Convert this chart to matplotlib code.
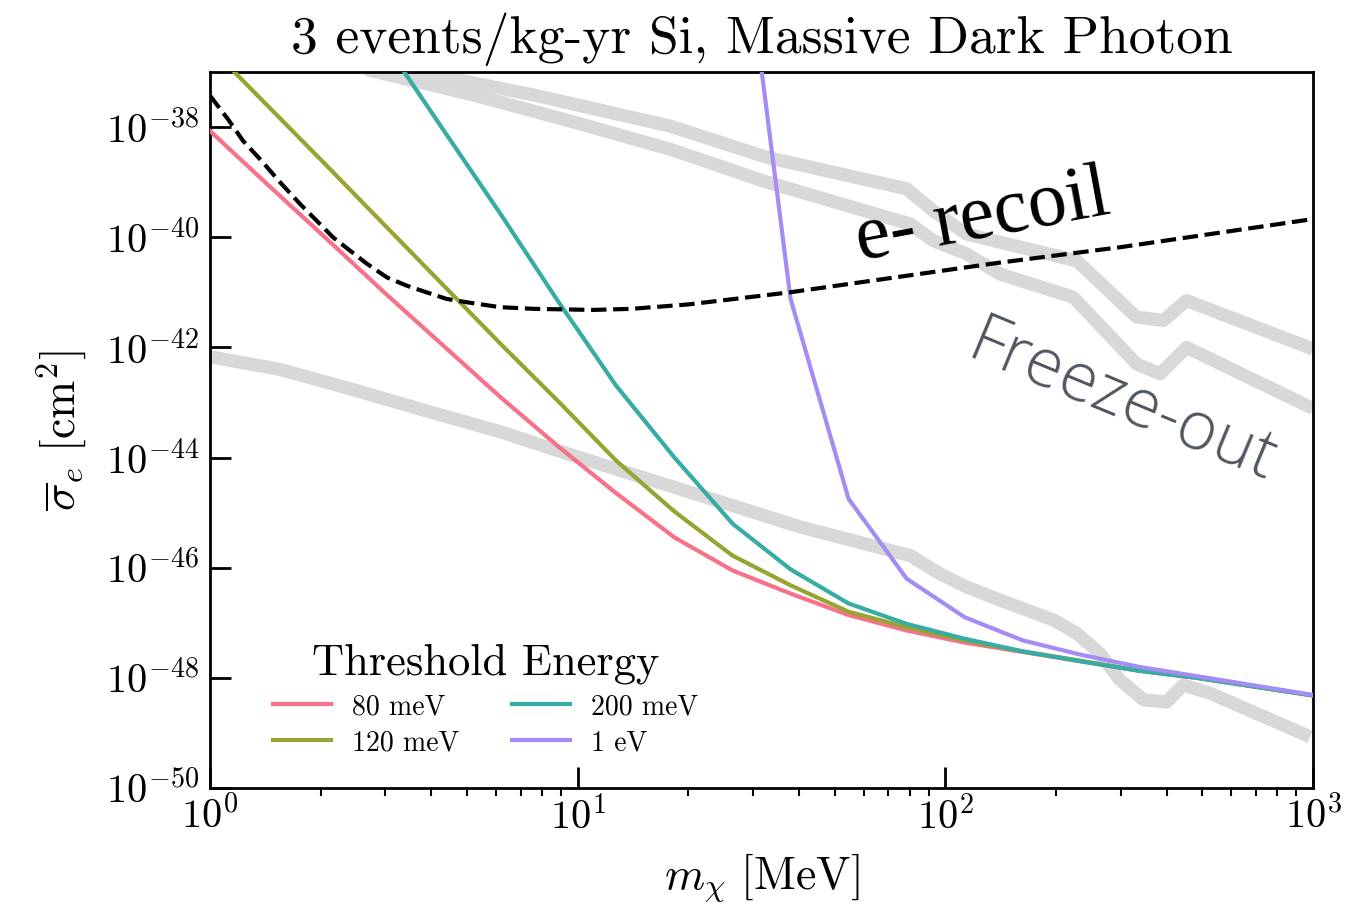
import numpy as np
import matplotlib
matplotlib.use("Agg")
import matplotlib.pyplot as plt
from matplotlib.ticker import LogLocator, NullLocator, NullFormatter

# ---------------- data (log10 of cross-section in cm^2) ----------------
masses = [1.0, 1.438, 2.069, 2.976, 4.281, 6.158, 8.859, 12.74, 18.33, 26.37,
          37.93, 54.56, 78.48, 112.9, 162.4, 233.6, 336.0, 483.3, 695.2, 1000.0]

nan = float("nan")
logsig_80meV = [-38.07, -39.05, -40.02, -41.0, -41.95, -42.9, -43.8, -44.65, -45.45, -46.05,
                -46.47, -46.86, -47.14, -47.36, -47.53, -47.70, -47.87, -48.0, -48.16, -48.32]
logsig_120meV = [-36.55, -37.62, -38.69, -39.77, -40.85, -41.93, -42.98, -44.06, -44.98, -45.78,
                 -46.32, -46.80, -47.08, -47.32, -47.52, -47.69, -47.87, -48.0, -48.16, -48.32]
logsig_200meV = [nan, nan, nan, -36.46, -38.02, -39.57, -41.17, -42.70, -44.0, -45.2,
                 -46.03, -46.65, -47.02, -47.29, -47.52, -47.70, -47.87, -48.0, -48.16, -48.32]
logsig_1eV = [nan, nan, nan, nan, nan, nan, nan, nan, nan, -32.8,
              -41.12, -44.75, -46.20, -46.90, -47.32, -47.58, -47.80, -47.97, -48.14, -48.31]

series_labels = ["80 meV", "120 meV", "200 meV", "1 eV"]
series_colors = ["#f77189", "#97a431", "#36ada4", "#a48cf4"]

# e- recoil (dashed)
recoil_m = [1.0, 1.12, 1.23, 1.38, 1.55, 1.76, 1.95, 2.16, 2.40, 2.67, 3.03, 3.43, 3.88,
            4.40, 4.99, 6.15, 7.59, 11.0, 14.0, 20.0, 37.8, 100.0, 141.0, 300.0, 1000.0]
recoil_logsig = [-37.43, -37.86, -38.25, -38.61, -39.0, -39.40, -39.70, -40.0, -40.24, -40.48,
                 -40.73, -40.88, -41.0, -41.12, -41.18, -41.27, -41.30, -41.32, -41.30, -41.22,
                 -41.0, -40.6, -40.46, -40.18, -39.67]

# freeze-out bands (gray)
fo_upper_m = [1.5, 3.72, 7.74, 17.8, 32.7, 78.5, 92.7, 114.0, 228.0, 331.0, 392.0, 453.0, 1000.0]
fo_upper_logsig = [-35.6, -37.0, -37.43, -37.98, -38.55, -39.12, -39.52, -39.94, -40.43,
                   -41.45, -41.51, -41.15, -42.03]
fo_lower_m = [1.5, 2.72, 5.09, 9.53, 17.8, 32.7, 80.2, 92.7, 114.0, 141.0, 223.0, 331.0,
              384.0, 453.0, 1000.0]
fo_lower_logsig = [-35.9, -36.97, -37.40, -37.89, -38.40, -39.0, -39.76, -40.06, -40.30,
                   -40.67, -41.09, -42.30, -42.48, -42.0, -43.11]

# lower gray band
fi_m = [1.0, 1.55, 2.40, 4.05, 6.15, 8.41, 13.0, 20.0, 40.3, 80.2, 96.6, 114.3, 141.0, 196.8,
        227.5, 263.6, 298.5, 346.0, 400.0, 443.6, 525.0, 982.0]
fi_logsig = [-42.17, -42.40, -42.75, -43.19, -43.53, -43.83, -44.23, -44.62, -45.26, -45.78,
             -46.11, -46.35, -46.59, -46.95, -47.19, -47.56, -48.04, -48.40, -48.44, -48.13,
             -48.28, -49.07]

ytick_exponents = [-50, -48, -46, -44, -42, -40, -38]

# ---------------- style ----------------
plt.rcParams["font.family"] = "serif"
plt.rcParams["font.serif"] = ["cmr10", "DejaVu Serif"]
plt.rcParams["mathtext.fontset"] = "cm"
plt.rcParams["axes.formatter.use_mathtext"] = True

W, H = 1347, 911
fig = plt.figure(figsize=(W / 100, H / 100), dpi=100)
ax = fig.add_axes([210 / W, 1 - 788 / H, 1103 / W, 716 / H])

band_color = "#d8d8d8"
band_lw = 9.5
for bm, bv in [(fo_upper_m, fo_upper_logsig), (fo_lower_m, fo_lower_logsig), (fi_m, fi_logsig)]:
    ax.plot(bm, 10.0 ** np.array(bv), color=band_color, lw=band_lw, zorder=1,
            solid_capstyle="butt")

all_series = [logsig_80meV, logsig_120meV, logsig_200meV, logsig_1eV]
for vals, lab, col in zip(all_series, series_labels, series_colors):
    ax.plot(masses, 10.0 ** np.array(vals), color=col, lw=3.0, label=lab, zorder=3)

ax.plot(recoil_m, 10.0 ** np.array(recoil_logsig), color="black", lw=3.0, ls="--", zorder=4)

ax.set_xscale("log")
ax.set_yscale("log")
ax.set_xlim(1, 1000)
ax.set_ylim(1e-50, 1e-37)
ax.set_yticks([10.0 ** e for e in ytick_exponents])
ax.yaxis.set_minor_locator(NullLocator())
ax.xaxis.set_minor_locator(LogLocator(base=10, subs=np.arange(2, 10), numticks=20))
ax.xaxis.set_minor_formatter(NullFormatter())

ax.tick_params(which="major", direction="in", length=15, width=2, labelsize=29, pad=8)
ax.tick_params(axis="x", which="major", pad=6)
ax.tick_params(which="minor", direction="out", length=6, width=1.5)
for s in ax.spines.values():
    s.set_linewidth(2)

ax.set_xlabel(r"$m_\chi\ [\mathrm{MeV}]$", fontsize=33, labelpad=10)
ax.set_ylabel(r"$\overline{\sigma}_e\ [\mathrm{cm}^2]$", fontsize=33, labelpad=12)
ax.set_title("3 events/kg-yr Si, Massive Dark Photon", fontsize=38.5, pad=14)

ax.text(126, 10 ** -39.66, "e- recoil", fontsize=56, rotation=10.5,
        fontfamily=["Liberation Serif", "DejaVu Serif"],
        ha="center", va="center", rotation_mode="anchor", zorder=6)
ax.text(302, 10 ** -43.0, "Freeze-out", fontsize=49, rotation=-22.5,
        fontfamily=["Open Sans", "DejaVu Sans"], fontweight="light",
        color="#4f5660", ha="center", va="center", rotation_mode="anchor", zorder=6)

leg = ax.legend(title="Threshold Energy", ncol=2, loc="lower left",
                bbox_to_anchor=(0.047, 0.029), borderaxespad=0, frameon=False,
                fontsize=20, title_fontsize=32, handlelength=2.1, handletextpad=0.75,
                columnspacing=1.9, labelspacing=0.35)

fig.savefig("out.png", dpi=100)
